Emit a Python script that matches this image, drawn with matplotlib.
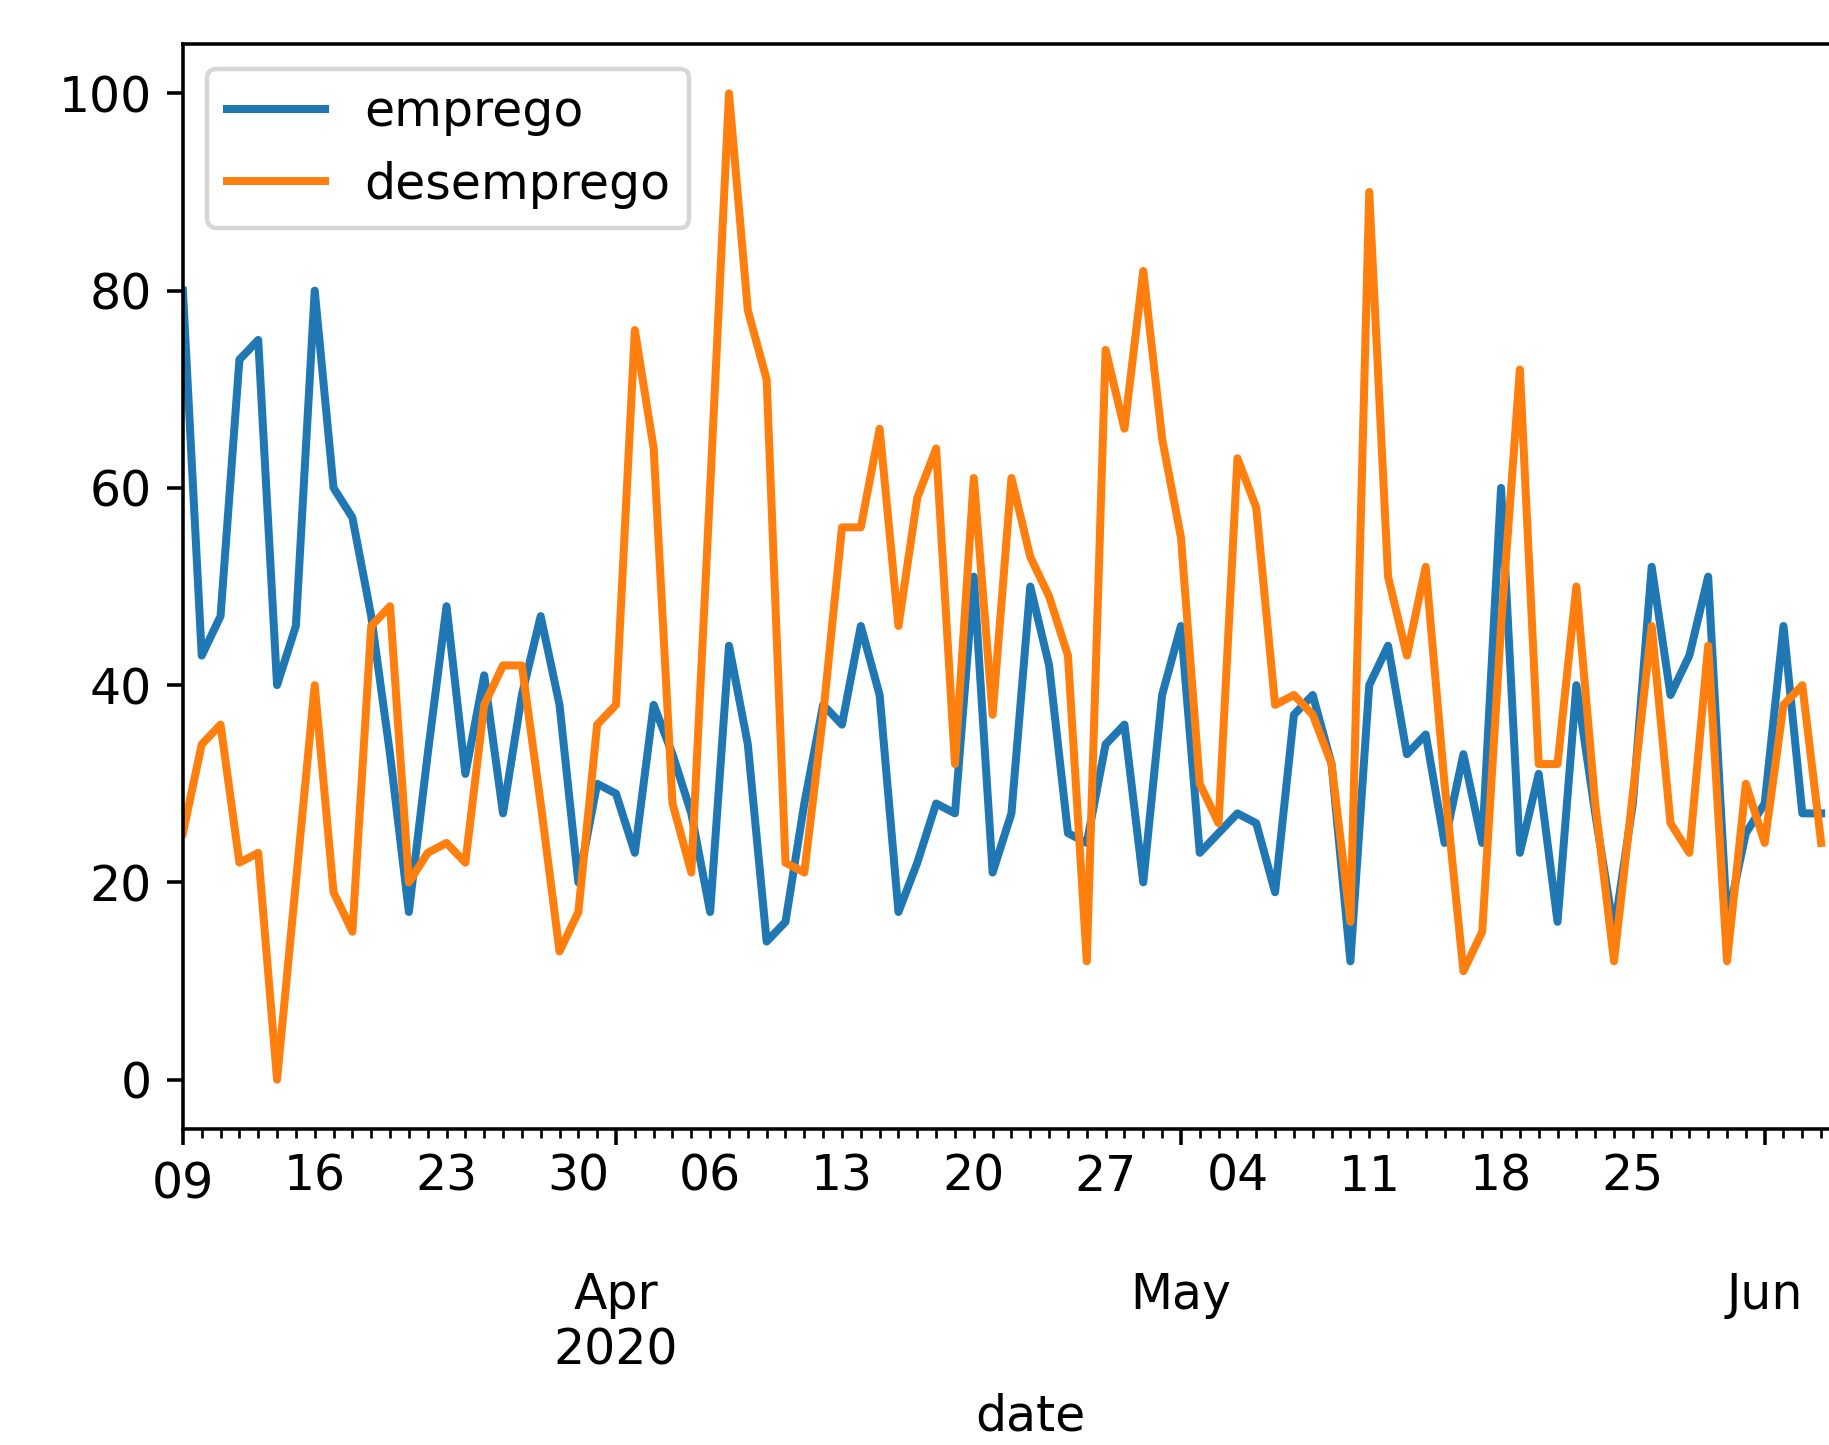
"""Recreate the emprego / desemprego daily series chart (Mar-Jun 2020)."""

import matplotlib
matplotlib.use("Agg")
import matplotlib.pyplot as plt
import matplotlib.dates as mdates
import matplotlib.ticker as mticker
import pandas as pd

START = "2020-03-09"

# daily values, starting 2020-03-09
emprego = [80, 43, 47, 73, 75, 40, 46, 80, 60, 57,
           47, 33, 17, 33, 48, 31, 41, 27, 39, 47,
           38, 20, 30, 29, 23, 38, 33, 27, 17, 44,
           34, 14, 16, 28, 38, 36, 46, 39, 17, 22,
           28, 27, 51, 21, 27, 50, 42, 25, 24, 34,
           36, 20, 39, 46, 23, 25, 27, 26, 19, 37,
           39, 32, 12, 40, 44, 33, 35, 24, 33, 24,
           60, 23, 31, 16, 40, 27, 15, 28, 52, 39,
           43, 51, 16, 25, 28, 46, 27, 27]
desemprego = [25, 34, 36, 22, 23, 0, 20, 40, 19, 15,
              46, 48, 20, 23, 24, 22, 38, 42, 42, 28,
              13, 17, 36, 38, 76, 64, 28, 21, 60, 100,
              78, 71, 22, 21, 37, 56, 56, 66, 46, 59,
              64, 32, 61, 37, 61, 53, 49, 43, 12, 74,
              66, 82, 65, 55, 30, 26, 63, 58, 38, 39,
              37, 32, 16, 90, 51, 43, 52, 30, 11, 15,
              46, 72, 32, 32, 50, 28, 12, 29, 46, 26,
              23, 44, 12, 30, 24, 38, 40, 24]

major_dates = ["2020-03-09", "2020-04-01", "2020-05-01", "2020-06-01"]
major_labels = ["09", "\n\nApr\n2020", "\n\nMay", "\n\nJun"]

plt.rcParams["font.size"] = 11

dates = pd.date_range(START, periods=len(emprego), freq="D")

fig = plt.figure(figsize=(1829 / 320, 1445 / 320), dpi=320)
# the source image is cropped on the right, so the axes runs past the figure edge
ax = fig.add_axes([0.1, 0.2187, 0.9266, 0.7508])

ax.plot(dates, emprego, label="emprego", lw=1.8)
ax.plot(dates, desemprego, label="desemprego", lw=1.8)

ax.set_xlim(pd.Timestamp(START), pd.Timestamp("2020-06-07"))
ax.set_ylim(-5, 105)

ax.xaxis.set_major_locator(mticker.FixedLocator(
    [mdates.date2num(pd.Timestamp(d)) for d in major_dates]))
ax.xaxis.set_major_formatter(mticker.FixedFormatter(major_labels))
ax.xaxis.set_minor_locator(mdates.DayLocator())


def minor_label(x, pos):
    d = mdates.num2date(x)
    return d.strftime("%d") if d.weekday() == 0 else ""


ax.xaxis.set_minor_formatter(mticker.FuncFormatter(minor_label))
ax.set_xlabel("date")
ax.legend(loc="upper left")

fig.savefig("out.png", dpi=320)
